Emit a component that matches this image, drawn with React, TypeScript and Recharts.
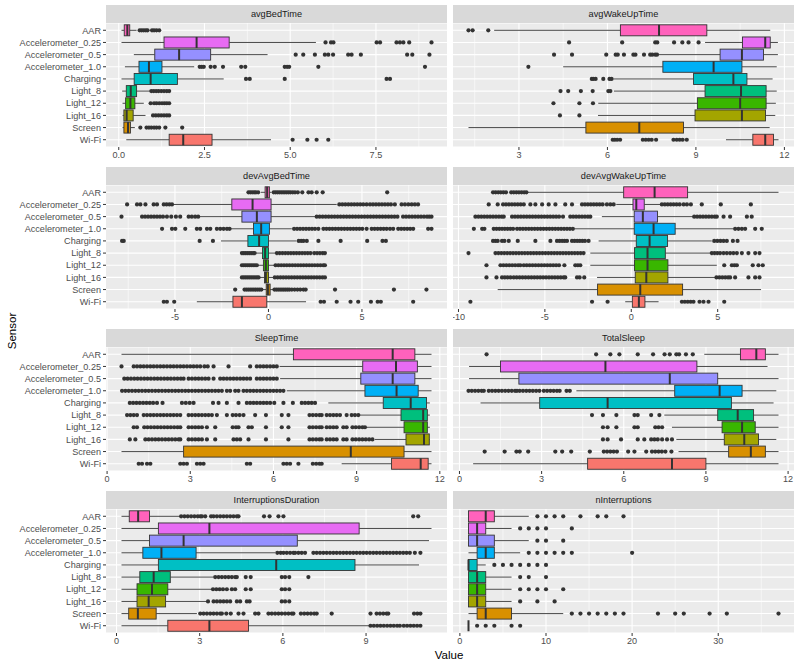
import React from 'react';
import { BarChart, Bar, XAxis, YAxis, CartesianGrid } from 'recharts';

const FONT = '"Liberation Sans", Arial, Helvetica, sans-serif';

const SENSORS = ['AAR', 'Accelerometer_0.25', 'Accelerometer_0.5', 'Accelerometer_1.0', 'Charging', 'Light_8', 'Light_12', 'Light_16', 'Screen', 'Wi-Fi'];
const SENSOR_COLORS = ['#FF62BC', '#E76BF3', '#9590FF', '#00B0F6', '#00BFC4', '#00BF7D', '#39B600', '#A3A500', '#D89000', '#F8766D'];

// [lower whisker, q1, median, q3, upper whisker] per sensor
const avgBedTimeStats = [
  [0.08, 0.16, 0.25, 0.32, 0.52], [0.08, 1.32, 2.27, 3.22, 5.75], [0.44, 1.05, 1.76, 2.68, 4.34], [0.18, 0.59, 0.88, 1.26, 2.2], [0.08, 0.45, 0.93, 1.71, 3.06],
  [0.1, 0.22, 0.35, 0.52, 0.92], [0.11, 0.2, 0.34, 0.47, 0.73], [0.11, 0.15, 0.23, 0.42, 0.78], [0.11, 0.15, 0.27, 0.34, 0.47], [0.22, 1.47, 1.88, 2.72, 4.44],
];
const avgBedTimeOutliers = [
  [0.61, 0.67, 0.73, 0.79, 0.84, 0.97, 1.03, 1.1, 1.18],
  [6.03, 6.19, 6.26, 7.52, 7.62, 8.1, 8.2, 8.3, 8.47, 9.12],
  [5.16, 5.38, 5.72, 6.01, 6.11, 6.25, 6.69, 6.79, 7.06, 8.41, 8.56, 9.06],
  [2.36, 2.42, 2.48, 2.68, 2.8, 3.04, 3.57, 3.69, 4.84, 4.91, 4.97, 5.82, 8.93],
  [3.71, 3.82, 4.84, 7.81, 7.91],
  [0.95, 1.02, 1.09, 1.16, 1.24, 1.32, 1.4, 1.47],
  [0.93, 1.03, 1.1, 1.18, 1.26, 1.33, 1.4, 1.47],
  [1.0, 1.08, 1.16, 1.24, 1.32, 1.4, 1.47],
  [0.63, 0.81, 0.88, 0.95, 1.03, 1.1, 1.18, 1.36, 1.85],
  [5.07, 5.5, 5.77, 6.11],
];
const avgBedTimeTicks = [0, 2.5, 5, 7.5];
const avgBedTimeTickLabels = ['0.0', '2.5', '5.0', '7.5'];

const avgWakeUpTimeStats = [
  [2.16, 6.44, 7.75, 9.37, 11.52], [9.31, 10.58, 11.35, 11.52, 11.78], [7.73, 9.82, 10.56, 11.29, 11.78], [4.5, 7.88, 9.6, 10.56, 11.74], [6.2, 8.92, 10.27, 10.73, 11.6],
  [6.22, 9.31, 10.53, 11.38, 11.74], [5.69, 9.05, 10.5, 11.38, 11.71], [5.68, 8.97, 10.56, 11.36, 11.69], [1.29, 5.27, 7.08, 8.58, 11.5], [10.02, 10.93, 11.35, 11.63, 11.8],
];
const avgWakeUpTimeOutliers = [
  [1.29, 1.43, 1.96],
  [4.7, 6.5, 7.62, 7.69, 8.26, 8.54, 8.75, 9.09],
  [4.19, 4.8, 5.96, 6.28, 6.35, 6.56, 6.88, 6.95, 7.24, 7.45, 7.52, 7.62, 7.68],
  [3.32],
  [5.47, 5.52, 5.6, 5.86, 6.07, 6.14],
  [4.41, 4.67, 5.1, 5.5, 6.03, 6.1],
  [4.17, 5.05, 5.51],
  [4.39, 5.05],
  [],
  [6.18, 6.25, 6.33, 6.43, 7.2, 7.3, 7.4, 7.5, 7.65, 8.24, 8.35, 8.45, 8.55, 8.69],
];
const avgWakeUpTimeTicks = [3, 6, 9, 12];
const avgWakeUpTimeTickLabels = ['3', '6', '9', '12'];

const devAvgBedTimeStats = [
  [-0.4, -0.18, -0.07, 0.05, 0.16], [-5.07, -1.96, -0.85, 0.14, 3.65], [-3.68, -1.42, -0.62, 0.14, 2.49], [-2.01, -0.8, -0.39, 0.05, 1.25], [-2.54, -1.1, -0.5, 0.0, 1.5],
  [-0.68, -0.32, -0.18, 0.0, 0.36], [-0.55, -0.27, -0.14, 0.0, 0.3], [-0.45, -0.21, -0.14, 0.0, 0.28], [-0.3, -0.12, -0.03, 0.09, 0.25], [-3.83, -1.9, -1.42, -0.09, 2.01],
];
const devAvgBedTimeOutliers = [
  [-1.07, -0.97, -0.87, -0.77, -0.67, -0.55, 0.28, 0.38, 0.48, 0.58, 0.68, 0.78, 0.88, 0.98, 1.08, 1.18, 1.3, 1.42, 1.57, 1.81, 2.14, 2.31, 2.58, 2.9, 6.35],
  [-7.56, -7.03, -6.85, -6.58, -6.14, -5.96, -5.6, -5.45, -5.3, -5.16, 3.79, 3.95, 4.11, 4.27, 4.43, 4.59, 4.75, 4.91, 5.07, 5.25, 5.43, 5.59, 5.75, 5.91, 6.07, 6.23, 6.39, 6.55, 6.76, 7.12, 7.3, 7.48, 7.66, 7.83, 8.0],
  [-7.86, -6.76, -6.6, -6.44, -6.28, -6.12, -5.96, -5.8, -5.64, -5.43, -5.2, -4.95, -4.72, -4.27, -4.1, -3.92, -3.76,
    2.58, 2.74, 2.9, 3.06, 3.22, 3.38, 3.54, 3.7, 3.86, 4.02, 4.18, 4.34, 4.5, 4.66, 4.82, 4.98, 5.14, 5.3, 5.46, 5.62, 5.78, 5.94, 6.1, 6.26, 6.42, 6.58, 6.74, 6.9, 7.2, 7.36, 7.52, 7.68, 7.84, 8.0, 8.16, 8.32, 8.48, 8.6, 8.72],
  [-5.69, -5.16, -4.98, -4.45, -3.83, -3.65, -3.29, -3.11, -2.76, -2.58, -2.4, -2.22, -2.08,
    1.37, 1.53, 1.69, 1.85, 2.01, 2.17, 2.33, 2.49, 2.67, 2.94, 3.1, 3.26, 3.42, 3.58, 3.74, 3.9, 4.06, 4.22, 4.38, 4.54, 4.7, 4.86, 5.02, 5.25, 5.52, 5.68, 5.84, 6.0, 6.16, 6.32, 6.5, 6.67, 6.94, 7.1, 7.26, 7.42, 7.58, 7.74, 8.54, 8.72],
  [-7.83, -7.74, -3.68, -2.97, 1.62, 1.75, 1.87, 2.05, 2.67, 3.86, 5.28, 6.1, 6.28],
  [-1.42, -1.32, -1.22, -1.12, -1.02, -0.92, -0.82, -0.74, 0.45, 0.6, 0.75, 0.9, 1.05, 1.2, 1.35, 1.5, 1.65, 1.8, 1.95, 2.1, 2.25, 2.45, 2.6, 2.75, 2.9, 3.02],
  [-1.42, -1.32, -1.22, -1.12, -1.02, -0.92, -0.82, -0.72, -0.62, 0.38, 0.53, 0.68, 0.83, 0.98, 1.13, 1.28, 1.43, 1.58, 1.73, 1.88, 2.03, 2.18, 2.33, 2.48, 2.63, 2.78, 2.93, 3.02],
  [-1.42, -1.32, -1.22, -1.12, -1.02, -0.92, -0.82, -0.72, -0.62, -0.53, 0.34, 0.49, 0.64, 0.79, 0.94, 1.09, 1.24, 1.39, 1.54, 1.69, 1.84, 1.99, 2.14, 2.29, 2.44, 2.59, 2.74, 2.89, 3.02],
  [-1.78, -1.28, -1.18, -1.08, -0.98, -0.88, -0.78, -0.68, -0.58, -0.48, -0.38, 0.32, 0.42, 0.52, 0.62, 0.72, 0.82, 0.92, 1.02, 1.12, 1.25, 1.4, 1.55, 1.7, 1.87, 1.99, 3.56, 6.71, 8.45],
  [-5.6, -5.43, -5.04, 2.79, 2.97, 3.65, 4.39, 4.8, 5.48, 5.84, 6.01, 7.74],
];
const devAvgBedTimeTicks = [-5, 0, 5];
const devAvgBedTimeTickLabels = ['-5', '0', '5'];

const devAvgWakeUpTimeStats = [
  [-5.99, -0.44, 1.35, 3.26, 8.52], [-0.87, 0.1, 0.29, 0.75, 1.68], [-1.7, 0.17, 0.67, 1.52, 3.6], [-3.29, 0.17, 1.29, 2.54, 5.92], [-1.89, 0.29, 1.06, 2.1, 4.66],
  [-2.37, 0.19, 0.94, 1.97, 4.57], [-2.37, 0.19, 0.94, 2.12, 4.95], [-1.98, 0.23, 0.87, 2.12, 4.86], [-7.73, -1.95, 0.52, 2.97, 7.51], [-0.35, 0.06, 0.44, 0.79, 1.58],
];
const devAvgWakeUpTimeOutliers = [
  [-8.0, -7.85, -7.7, -7.55, -7.4, -7.25, -6.95, -6.8, -6.65, -6.5, -6.35, -6.2, -6.07],
  [-8.25, -7.73, -7.42, -7.25, -7.08, -6.91, -6.74, -6.57, -6.4, -6.22, -5.84, -5.55, -5.16, -4.78, -4.39, -3.82, -3.43, -2.85, -2.68, -2.51, -2.34, -2.17, -2.0, -1.83, -1.66, -1.41, -1.21, -1.02,
    1.77, 1.94, 2.11, 2.28, 2.45, 2.62, 2.8, 3.03, 3.22, 3.45, 4.08, 5.18, 6.92],
  [-9.02, -8.85, -8.68, -8.51, -8.34, -8.17, -8.0, -7.83, -7.66, -7.5, -7.38, -6.9, -6.73, -6.56, -6.39, -6.22, -6.05, -5.88, -5.71, -5.54, -5.37, -5.2, -5.03, -4.86, -4.69, -4.52, -4.35, -4.18, -3.95,
    -3.53, -3.36, -3.19, -3.02, -2.85, -2.68, -2.51, -2.37, 3.64, 3.81, 3.98, 4.15, 4.32, 4.49, 4.66, 4.83, 4.95, 5.34, 5.72, 6.69, 6.97],
  [-9.11, -8.63, -8.5, -7.96, -7.8, -7.64, -7.48, -7.32, -7.16, -7.0, -6.84, -6.61, -6.44, -6.27, -6.1, -5.93, -5.76, -5.59, -5.42, -5.25, -5.08, -4.91, -4.74, -4.57, -4.4, -4.23, -4.06, -3.89, -3.72, -3.55, -3.38,
    6.01, 6.2, 6.4, 6.59, 7.17, 7.55],
  [-8.0, -7.86, -7.73, -7.48, -7.34, -7.09, -6.57, -5.55, -4.68, -4.3, -4.15, -4.0, -3.86, -3.72, -3.43, -3.28, -3.13, -2.98, -2.83, -2.68, -2.47, 4.8, 4.98, 5.16, 5.34, 5.53, 5.88, 6.15],
  [-9.42, -7.86, -7.69, -7.52, -7.35, -7.18, -7.01, -6.84, -6.67, -6.5, -6.33, -6.16, -5.99, -5.82, -5.65, -5.48, -5.31, -5.14, -4.97, -4.8, -4.63, -4.46, -4.29, -4.12, -3.95, -3.78, -3.61, -3.44, -3.27, -3.1, -2.93, -2.76,
    4.66, 4.82, 4.98, 5.14, 5.34, 5.53, 5.72, 5.91, 6.11, 6.4, 6.78, 7.17, 7.42],
  [-8.38, -7.57, -7.4, -7.23, -7.06, -6.89, -6.72, -6.55, -6.42, -6.22, -6.05, -5.88, -5.71, -5.54, -5.37, -5.2, -5.03, -4.86, -4.69, -4.52, -4.35, -4.18, -3.87, -3.24, -3.09, -2.95,
    5.38, 5.82, 5.97, 6.11, 7.03, 7.36, 7.61],
  [-8.38, -7.8, -7.48, -7.32, -7.16, -6.99, -6.8, -6.63, -6.46, -6.29, -6.12, -5.95, -5.78, -5.61, -5.44, -5.27, -5.1, -4.93, -4.76, -4.59, -4.42, -4.25, -4.08, -3.91, -3.82, -3.14, -2.99, -2.72,
    4.93, 5.1, 5.27, 5.44, 5.6, 5.72, 6.01, 6.78, 7.17, 7.42],
  [],
  [-9.31, -2.27, -1.37, 2.93, 3.1, 3.27, 3.44, 3.6, 3.95, 4.18, 4.47, 5.38],
];
const devAvgWakeUpTimeTicks = [-10, -5, 0, 5];
const devAvgWakeUpTimeTickLabels = ['-10', '-5', '0', '5'];

const sleepTimeStats = [
  [0.52, 6.72, 10.3, 11.1, 11.7], [6.22, 9.22, 10.42, 11.19, 11.7], [6.24, 9.15, 10.3, 11.1, 11.7], [6.48, 9.3, 10.44, 11.22, 11.7], [7.98, 9.96, 10.95, 11.52, 11.64],
  [9.12, 10.6, 11.4, 11.55, 11.64], [9.36, 10.71, 11.4, 11.55, 11.64], [9.66, 10.78, 11.43, 11.62, 11.64], [0.52, 2.76, 8.79, 10.71, 11.7], [8.46, 10.26, 11.31, 11.58, 11.7],
];
const sleepTimeOutliers = [
  [],
  [0.52, 0.96, 1.08, 1.2, 1.32, 1.44, 1.56, 1.68, 1.8, 1.92, 2.04, 2.16, 2.28, 2.4, 2.52, 2.64, 2.76, 2.88, 3.0, 3.12, 3.24, 3.36, 3.51, 3.63, 3.84, 4.38, 5.16, 5.4, 5.52, 5.64, 5.76, 5.88, 6.0, 6.12],
  [0.62, 0.74, 0.86, 0.98, 1.1, 1.22, 1.34, 1.46, 1.58, 1.7, 1.82, 1.94, 2.06, 2.18, 2.3, 2.42, 2.54, 2.66, 2.76, 2.94, 3.06, 3.18, 3.3, 3.42, 3.54, 3.66, 3.84,
    4.08, 4.2, 4.32, 4.44, 4.56, 4.68, 4.8, 4.92, 5.04, 5.16, 5.4, 5.52, 5.64, 5.76, 5.88, 6.0, 6.12],
  [0.54, 0.66, 0.78, 0.9, 1.02, 1.14, 1.26, 1.38, 1.5, 1.62, 1.74, 1.86, 1.98, 2.1, 2.22, 2.34, 2.46, 2.58, 2.7, 2.82, 2.94, 3.06, 3.18, 3.3, 3.42, 3.54, 3.66, 3.78, 3.9, 4.02, 4.14,
    4.32, 4.44, 4.62, 4.74, 4.92, 5.04, 5.16, 5.28, 5.4, 5.52, 5.64, 5.76, 5.88, 6.0, 6.12, 6.24, 6.36],
  [0.82, 0.94, 1.06, 1.18, 1.3, 1.42, 1.54, 1.66, 1.8, 2.0, 2.7, 2.84, 2.98, 3.12, 3.82, 4.02, 4.32, 4.74, 5.04, 5.16, 5.28, 5.4, 5.52, 5.64, 5.76, 5.88, 6.03, 6.36, 6.7, 7.02, 7.14, 7.26, 7.38, 7.5],
  [0.72, 0.84, 0.96, 1.08, 1.32, 1.44, 1.56, 1.68, 1.8, 1.92, 2.04, 2.16, 2.28, 2.4, 2.52, 2.64, 2.94, 3.06, 3.18, 3.3, 3.42, 3.54, 3.66, 3.78, 3.96, 4.32, 4.53, 4.65, 4.78, 4.92, 5.34, 5.73, 6.3, 6.54,
    7.3, 7.42, 7.54, 7.66, 7.74, 7.92, 8.04, 8.16, 8.28, 8.4, 8.64, 8.82, 8.94, 9.06],
  [0.96, 1.08, 1.34, 1.46, 1.58, 1.7, 1.82, 1.94, 2.06, 2.18, 2.3, 2.42, 2.54, 2.64, 2.94, 3.06, 3.18, 3.3, 3.42, 3.6, 3.9, 4.53, 4.65, 4.74, 5.1, 5.22, 5.73, 6.3, 6.54,
    7.3, 7.42, 7.54, 7.66, 7.74, 7.92, 8.04, 8.16, 8.28, 8.52, 8.64, 8.85, 8.97, 9.09, 9.21, 9.3],
  [0.82, 1.02, 1.38, 1.5, 1.62, 1.74, 1.86, 1.98, 2.1, 2.22, 2.34, 2.46, 2.58, 2.64, 2.94, 3.06, 3.18, 3.3, 3.42, 3.6, 3.9, 4.56, 4.68, 4.8, 5.1, 5.73, 6.54,
    7.3, 7.42, 7.54, 7.66, 7.74, 7.92, 8.04, 8.16, 8.28, 8.52, 8.64, 8.85, 8.97, 9.09, 9.21, 9.33, 9.45, 9.57],
  [],
  [1.14, 1.26, 1.44, 1.56, 2.64, 2.76, 2.88, 3.24, 3.36, 3.48, 5.04, 5.16, 6.36, 6.48, 6.6, 6.9, 7.42, 7.54, 7.66, 7.74],
];
const sleepTimeTicks = [0, 3, 6, 9, 12];
const sleepTimeTickLabels = ['0', '3', '6', '9', '12'];

const totalSleepStats = [
  [8.94, 10.26, 10.84, 11.17, 11.65], [0.35, 1.5, 5.33, 8.67, 11.25], [0.35, 2.17, 7.68, 9.43, 11.65], [4.27, 7.86, 9.5, 10.32, 11.57], [0.77, 2.93, 5.41, 9.93, 11.47],
  [7.48, 9.43, 10.16, 10.74, 11.65], [7.76, 9.59, 10.32, 10.8, 11.65], [7.92, 9.67, 10.4, 10.92, 11.57], [8.0, 9.83, 10.64, 11.17, 11.65], [0.5, 4.68, 7.76, 9.0, 11.65],
];
const totalSleepOutliers = [
  [0.99, 4.99, 5.51, 5.84, 6.51, 7.07, 7.49, 7.68, 7.92, 8.02, 8.27, 8.52],
  [],
  [],
  [0.33, 0.45, 0.57, 0.69, 0.81, 0.89, 1.07, 1.19, 1.31, 1.43, 1.55, 1.67, 1.79, 1.91, 2.03, 2.1, 2.2, 2.32, 2.44, 2.56, 2.68, 2.8, 2.92, 3.08, 3.2, 3.32, 3.44, 3.56, 3.66, 3.91, 4.03],
  [],
  [4.84, 5.24, 5.73, 6.39, 6.51, 7.0, 7.3],
  [5.24, 5.41, 5.73, 6.39, 6.51, 7.15, 7.27, 7.4],
  [5.24, 5.41, 5.9, 6.51, 6.75, 7.0, 7.12, 7.24, 7.4, 7.58, 7.76],
  [0.92, 1.65, 2.08, 2.2, 2.51, 3.5, 3.75, 4.08, 4.76, 5.27, 5.39, 5.51, 5.63, 5.75, 6.16, 6.39, 6.82, 7.03, 7.15, 7.27, 7.39, 7.52, 7.74],
  [],
];
const totalSleepTicks = [0, 3, 6, 9, 12];
const totalSleepTickLabels = ['0', '3', '6', '9', '12'];

const interruptionsDurationStats = [
  [0.18, 0.46, 0.78, 1.19, 2.3], [0.18, 1.51, 3.35, 8.75, 11.36], [0.18, 1.19, 2.42, 6.52, 11.27], [0.18, 0.95, 1.62, 2.87, 5.72], [0.18, 1.51, 5.76, 8.6, 10.91],
  [0.18, 0.84, 1.34, 1.94, 3.5], [0.18, 0.74, 1.28, 1.85, 3.44], [0.18, 0.74, 1.16, 1.77, 3.26], [0.18, 0.44, 0.77, 1.43, 2.9], [0.18, 1.85, 3.35, 4.76, 9.14],
];
const interruptionsDurationOutliers = [
  [2.33, 2.45, 2.57, 2.69, 2.81, 2.93, 3.02, 3.08, 3.2, 3.41, 3.5, 3.62, 3.74, 3.86, 3.98, 4.1, 4.22, 4.34, 4.4, 5.32, 5.52, 5.84, 6.02, 10.7, 10.88],
  [],
  [],
  [5.8, 5.92, 6.02, 6.14, 6.26, 6.38, 6.44, 6.56, 6.68, 6.8, 7.1, 7.22, 7.34, 7.46, 7.58, 7.7, 7.82, 7.94, 8.06, 8.18, 8.3, 8.42, 8.54, 8.66, 8.78, 8.9, 9.02, 9.14, 9.26, 9.38, 9.5, 9.62, 9.74, 9.86, 9.98, 10.1, 10.22, 10.34, 10.46, 10.58, 10.76, 10.96],
  [],
  [3.56, 3.68, 3.8, 3.92, 4.04, 4.16, 4.28, 4.34, 4.66, 4.84, 5.96, 6.08, 6.23, 6.92],
  [3.48, 3.6, 3.72, 3.84, 3.98, 4.16, 4.28, 4.66, 4.84, 5.96, 6.08, 6.23],
  [3.3, 3.5, 3.62, 3.74, 3.86, 3.98, 4.1, 4.34, 4.46, 4.7, 4.8, 5.96, 6.08, 6.23],
  [3.02, 3.14, 3.26, 3.38, 3.5, 3.62, 3.74, 3.8, 3.96, 4.12, 4.4, 4.58, 5.0, 5.12, 5.48, 5.6, 5.72, 5.84, 5.96, 6.08, 6.2, 6.32, 6.38, 6.65, 6.77, 6.89, 7.01, 7.13, 7.22, 7.76, 9.16, 9.38, 9.5, 9.62, 9.74, 9.8, 10.73, 10.85, 10.96],
  [9.16, 9.28, 9.4, 9.52, 9.64, 9.76, 9.88, 10.0, 10.12, 10.22, 10.36, 10.48, 10.6, 10.72, 10.84, 10.96],
];
const interruptionsDurationTicks = [0, 3, 6, 9];
const interruptionsDurationTickLabels = ['0', '3', '6', '9'];

const nInterruptionsStats = [
  [1, 1, 3, 4, 8], [1, 1, 2, 3, 6], [1, 1, 2, 4, 8], [1, 2, 3, 4, 7], [1, 1, 1, 2, 3],
  [1, 1, 2, 3, 6], [1, 1, 2, 3, 6], [1, 1, 2, 3, 6], [1, 2, 3, 6, 12], [1, 1, 1, 1, 1],
];
const nInterruptionsOutliers = [
  [9, 10, 11, 12, 14, 16, 17, 19],
  [7, 8, 9, 10, 13],
  [9, 10, 12],
  [8, 9, 10, 11, 12, 13, 20],
  [4, 5, 6, 7, 8, 9, 10],
  [7, 8, 10],
  [7, 8, 9, 10, 12],
  [7, 9, 11],
  [13, 14, 15, 16, 17, 18, 19, 23, 25, 26, 29, 31, 37],
  [2, 3, 4, 6, 7],
];
const nInterruptionsTicks = [0, 10, 20, 30];
const nInterruptionsTickLabels = ['0', '10', '20', '30'];

// ---------- layout ----------
const PANEL_X = [106, 453];
const PANEL_W = 341;
const ROW_TOP = [5, 167, 329, 491];
const STRIP_H = 18;
const PLOT_H = 124;
const AXIS_H = 20;
const YAXIS_W = 106;

const buildRows = (stats: number[][], outliers: number[][]) =>
  SENSORS.map((sensor, i) => {
    const [wlo, q1, med, q3, whi] = stats[i];
    const out = outliers[i];
    return {
      sensor,
      color: SENSOR_COLORS[i],
      wlo, q1, med, q3, whi, out,
      lo: Math.min(wlo, ...out),
      hi: Math.max(whi, ...out),
    };
  });

const PANELS = [
  { title: 'avgBedTime', rows: buildRows(avgBedTimeStats, avgBedTimeOutliers), ticks: avgBedTimeTicks, labels: avgBedTimeTickLabels },
  { title: 'avgWakeUpTime', rows: buildRows(avgWakeUpTimeStats, avgWakeUpTimeOutliers), ticks: avgWakeUpTimeTicks, labels: avgWakeUpTimeTickLabels },
  { title: 'devAvgBedTime', rows: buildRows(devAvgBedTimeStats, devAvgBedTimeOutliers), ticks: devAvgBedTimeTicks, labels: devAvgBedTimeTickLabels },
  { title: 'devAvgWakeUpTime', rows: buildRows(devAvgWakeUpTimeStats, devAvgWakeUpTimeOutliers), ticks: devAvgWakeUpTimeTicks, labels: devAvgWakeUpTimeTickLabels },
  { title: 'SleepTime', rows: buildRows(sleepTimeStats, sleepTimeOutliers), ticks: sleepTimeTicks, labels: sleepTimeTickLabels },
  { title: 'TotalSleep', rows: buildRows(totalSleepStats, totalSleepOutliers), ticks: totalSleepTicks, labels: totalSleepTickLabels },
  { title: 'InterruptionsDuration', rows: buildRows(interruptionsDurationStats, interruptionsDurationOutliers), ticks: interruptionsDurationTicks, labels: interruptionsDurationTickLabels },
  { title: 'nInterruptions', rows: buildRows(nInterruptionsStats, nInterruptionsOutliers), ticks: nInterruptionsTicks, labels: nInterruptionsTickLabels },
];

const BoxShape = (props: any) => {
  const { x, y, width, height, payload } = props;
  const p = payload;
  if (!p || width == null) return null;
  const span = p.hi - p.lo;
  const sx = (v: number) => x + ((v - p.lo) / span) * width;
  const cy = y + height / 2;
  const stroke = '#333333';
  return (
    <g>
      {p.out.map((v: number, k: number) => (
        <circle key={k} cx={sx(v)} cy={cy} r={2.1} fill="#333333" />
      ))}
      <line x1={sx(p.wlo)} x2={sx(p.q1)} y1={cy} y2={cy} stroke={stroke} strokeWidth={0.9} />
      <line x1={sx(p.q3)} x2={sx(p.whi)} y1={cy} y2={cy} stroke={stroke} strokeWidth={0.9} />
      <rect x={sx(p.q1)} y={y} width={Math.max(0, sx(p.q3) - sx(p.q1))} height={height} fill={p.color} stroke={stroke} strokeWidth={0.9} />
      <line x1={sx(p.med)} x2={sx(p.med)} y1={y} y2={y + height} stroke={stroke} strokeWidth={2} />
    </g>
  );
};

const gridGen = (values: number[], domain: number[]) => (args: any) => {
  const xAxis = args && args.xAxis;
  if (xAxis && typeof xAxis.scale === 'function') {
    return values.map((v) => xAxis.scale(v));
  }
  const off = args.offset;
  return values.map((v) => off.left + ((v - domain[0]) / (domain[1] - domain[0])) * off.width);
};

function Panel({ panel, index }: { panel: any; index: number }) {
  const col = index % 2;
  const row = Math.floor(index / 2);
  const all = panel.rows.flatMap((r: any) => [r.lo, r.hi]);
  const mn = Math.min(...all);
  const mx = Math.max(...all);
  const pad = (mx - mn) * 0.05;
  const domain = [mn - pad, mx + pad];
  const t: number[] = panel.ticks;
  const step = t[1] - t[0];
  const minor = [t[0] - step / 2, ...t.map((v) => v + step / 2)].filter((v) => v > domain[0] && v < domain[1]);
  const top = ROW_TOP[row];
  const chartLeft = col === 0 ? 0 : PANEL_X[1];
  const chartW = col === 0 ? PANEL_X[0] + PANEL_W : PANEL_W;
  const tickStyle = { fontSize: 9.1, fill: '#4D4D4D', fontFamily: FONT };
  return (
    <>
      <div
        style={{
          position: 'absolute', left: PANEL_X[col], top, width: PANEL_W, height: STRIP_H,
          background: '#D9D9D9', color: '#1A1A1A', fontSize: 9.2, fontFamily: FONT,
          display: 'flex', alignItems: 'center', justifyContent: 'center',
        }}
      >
        {panel.title}
      </div>
      <div style={{ position: 'absolute', left: chartLeft, top: top + STRIP_H }}>
        <BarChart
          width={chartW}
          height={PLOT_H + AXIS_H}
          data={panel.rows}
          layout="vertical"
          margin={{ top: 0, right: 0, bottom: 0, left: 0 }}
          barCategoryGap="5%"
        >
          <CartesianGrid fill="#EBEBEB" fillOpacity={1} stroke="#FFFFFF" strokeWidth={0.55} horizontal={false} vertical={true}
            verticalCoordinatesGenerator={gridGen(minor, domain)} />
          <CartesianGrid stroke="#FFFFFF" strokeWidth={1.1} horizontal={true} vertical={true}
            verticalCoordinatesGenerator={gridGen(t, domain)} />
          <XAxis
            type="number"
            domain={domain}
            allowDataOverflow
            ticks={t}
            interval={0}
            tickFormatter={(v: number) => { const k = t.indexOf(v); return k >= 0 ? panel.labels[k] : String(v); }}
            height={AXIS_H}
            axisLine={false}
            tickLine={{ stroke: '#333333' }}
            tickSize={3}
            tickMargin={2}
            tick={tickStyle}
          />
          <YAxis
            type="category"
            dataKey="sensor"
            width={col === 0 ? YAXIS_W : 0}
            hide={col === 1}
            padding={{ top: 1.2, bottom: 1.2 }}
            axisLine={false}
            tickLine={{ stroke: '#333333' }}
            tickSize={3}
            tickMargin={2}
            interval={0}
            tick={tickStyle}
          />
          <Bar dataKey={(d: any) => [d.lo, d.hi]} shape={BoxShape} isAnimationActive={false} />
        </BarChart>
      </div>
    </>
  );
}

export default function App() {
  return (
    <div style={{ position: 'absolute', left: 0, top: 0, width: 800, height: 667, background: '#FFFFFF', fontFamily: FONT, overflow: 'hidden' }}>
      {PANELS.map((p, i) => (
        <Panel key={p.title} panel={p} index={i} />
      ))}
      <div
        style={{
          position: 'absolute', left: 12, top: 331, transform: 'translate(-50%, -50%) rotate(-90deg)',
          fontSize: 11.5, color: '#000000', fontFamily: FONT, whiteSpace: 'nowrap',
        }}
      >
        Sensor
      </div>
      <div
        style={{
          position: 'absolute', left: 449, top: 655, transform: 'translate(-50%, -50%)',
          fontSize: 11.5, color: '#000000', fontFamily: FONT, whiteSpace: 'nowrap',
        }}
      >
        Value
      </div>
    </div>
  );
}
